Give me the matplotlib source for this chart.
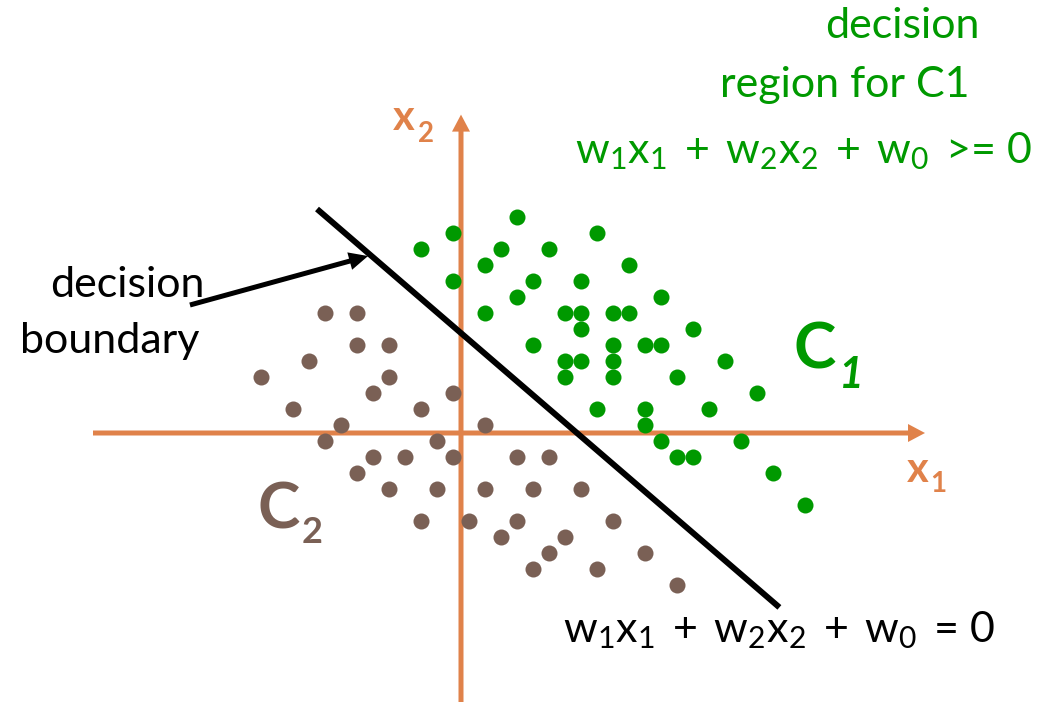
import matplotlib
matplotlib.use("Agg")
import matplotlib.pyplot as plt

plt.rcParams['font.family'] = ['Lato', 'DejaVu Sans']
plt.rcParams['mathtext.fontset'] = 'custom'
plt.rcParams['mathtext.rm'] = 'Lato'
plt.rcParams['mathtext.it'] = 'Lato:italic'
plt.rcParams['mathtext.bf'] = 'Lato:bold'

# ---- data (grid units, origin at axis crossing) ----
green_x = [3.5, -0.5, 8.5, -2.5, 2.5, 5.5, 1.5, 10.5, -0.5, 4.5, 7.5, 3.5, 12.5,
           1.5, 6.5, 7.5, 9.5, 10.5, 7.5, 14.5, 4.5, 9.5, 11.5, 12.5, 6.5, 7.5,
           9.5, 16.5, 6.5, 9.5, 13.5, 18.5, 8.5, 11.5, 15.5, 11.5, 12.5, 17.5,
           13.5, 14.5, 19.5, 21.5]
green_y = [13.5, 12.5, 12.5, 11.5, 11.5, 11.5, 10.5, 10.5, 9.5, 9.5, 9.5, 8.5, 8.5,
           7.5, 7.5, 7.5, 7.5, 7.5, 6.5, 6.5, 5.5, 5.5, 5.5, 5.5, 4.5, 4.5,
           4.5, 4.5, 3.5, 3.5, 3.5, 2.5, 1.5, 1.5, 1.5, 0.5, -0.5, -0.5,
           -1.5, -1.5, -2.5, -4.5]

brown_x = [-8.5, -6.5, -6.5, -4.5, -9.5, -12.5, -4.5, -5.5, -0.5, -10.5, -2.5,
           -7.5, 1.5, -8.5, -1.5, -5.5, -3.5, -0.5, 3.5, 5.5, -6.5, -4.5, -1.5,
           1.5, 4.5, 7.5, -2.5, 0.5, 3.5, 9.5, 2.5, 6.5, 5.5, 11.5, 4.5, 8.5, 13.5]
brown_y = [7.5, 7.5, 5.5, 5.5, 4.5, 3.5, 3.5, 2.5, 2.5, 1.5, 1.5,
           0.5, 0.5, -0.5, -0.5, -1.5, -1.5, -1.5, -1.5, -1.5, -2.5, -3.5, -3.5,
           -3.5, -3.5, -3.5, -5.5, -5.5, -5.5, -5.5, -6.5, -6.5, -7.5, -7.5, -8.5, -8.5, -9.5]

boundary_x = [-9.0, 19.9]
boundary_y = [14.0, -10.9]

GREEN = '#009900'
BROWN = '#7a6055'
ORANGE = '#e0824a'

fig = plt.figure(figsize=(10.6, 7.02), dpi=100)
ax = fig.add_axes([0, 0, 1, 1])
ax.set_xlim(-461 / 16, (1060 - 461) / 16)
ax.set_ylim(-(702 - 433) / 16, 433 / 16)
ax.set_aspect('equal')
ax.axis('off')

# axes arrows
ax.arrow(-23, 0, 52, 0, width=5 / 16, head_width=18 / 16, head_length=17 / 16,
         length_includes_head=True, color=ORANGE, lw=0, zorder=1)
ax.arrow(0, -17.5, 0, 37.4, width=5 / 16, head_width=18 / 16, head_length=17 / 16,
         length_includes_head=True, color=ORANGE, lw=0, zorder=1)

# points
ax.scatter(green_x, green_y, s=133, color=GREEN, linewidths=0, zorder=3)
ax.scatter(brown_x, brown_y, s=133, color=BROWN, linewidths=0, zorder=3)

# decision boundary
ax.plot(boundary_x, boundary_y, color='black', lw=4.3, solid_capstyle='butt', zorder=4)

# pointer arrow
ax.arrow(-16.94, 8.0, 11.13, 3.06, width=5 / 16, head_width=18 / 16, head_length=19 / 16,
         length_includes_head=True, color='black', lw=0, zorder=4)

FS = 31
T = '\u2009'
# texts
ax.text(27.56, 24.69, 'decision', color=GREEN, fontsize=FS, ha='center', va='baseline')
ax.text(24.0, 21.0, 'region for C1', color=GREEN, fontsize=FS, ha='center', va='baseline')
ax.text(7.125, 16.875,
        r'w$_1$x$_1$' + f' {T}+{T} ' + r'w$_2$x$_2$' + f' {T}+{T} ' + r'w$_0$' + f' {T}>= 0',
        color=GREEN, fontsize=FS, ha='left', va='baseline')
ax.text(6.375, -13.06,
        r'w$_1$x$_1$' + f' {T}+{T} ' + r'w$_2$x$_2$' + f' {T}+{T} ' + r'w$_0$' + f' {T}= 0',
        color='black', fontsize=FS, ha='left', va='baseline')
ax.text(-20.875, 8.5, 'decision', color='black', fontsize=FS, ha='center', va='baseline')
ax.text(-21.94, 5.0, 'boundary', color='black', fontsize=FS, ha='center', va='baseline')

ax.text(20.75, 4.06, 'C', color=GREEN, fontsize=46, fontweight='bold', ha='left', va='baseline')
ax.text(23.6, 2.8, '1', color=GREEN, fontsize=31, fontweight='bold', style='italic',
        ha='left', va='baseline')
ax.text(-12.69, -5.94, 'C', color=BROWN, fontsize=46, fontweight='bold', ha='left', va='baseline')
ax.text(-9.94, -6.875, '2', color=BROWN, fontsize=26, fontweight='bold', ha='left', va='baseline')

ax.text(-4.25, 18.94, 'x', color=ORANGE, fontsize=30, fontweight='bold', ha='left', va='baseline')
ax.text(-2.69, 18.19, '2', color=ORANGE, fontsize=20, fontweight='bold', ha='left', va='baseline')
ax.text(27.875, -3.06, 'x', color=ORANGE, fontsize=30, fontweight='bold', ha='left', va='baseline')
ax.text(29.3, -3.69, '1', color=ORANGE, fontsize=20, fontweight='bold', ha='left', va='baseline')

fig.savefig('out.png', dpi=100)
